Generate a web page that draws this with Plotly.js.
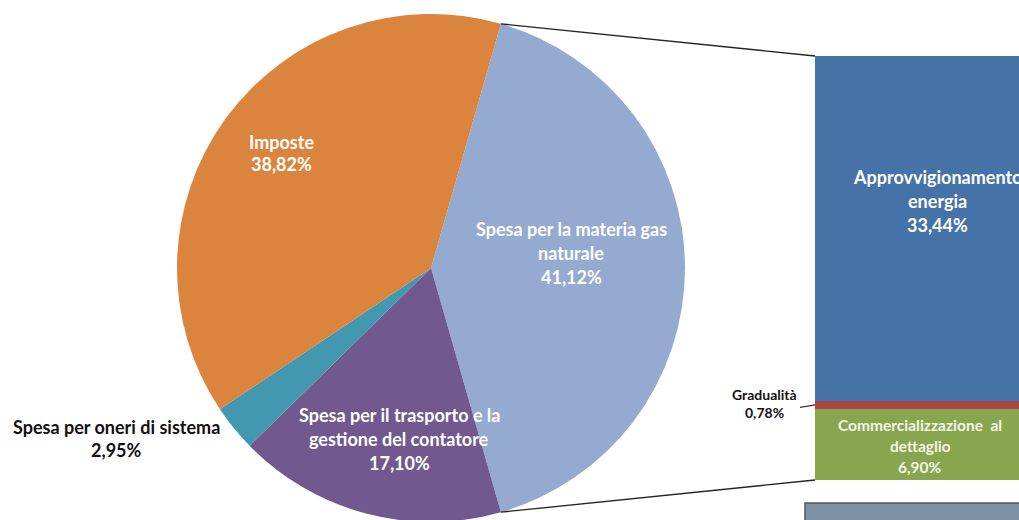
<!DOCTYPE html>
<html>
<head>
<meta charset="utf-8">
<script src="https://cdn.plot.ly/plotly-3.0.1.min.js"></script>
<style>
  html, body { margin: 0; padding: 0; background: #ffffff; overflow: hidden; }
  #wrap { width: 1019px; height: 520px; overflow: hidden; position: relative; }
  #chart { width: 1019px; height: 530px; }
</style>
</head>
<body>
<div id="wrap"><div id="chart"></div></div>
<script>
// ---------------- data ----------------
const pieLabels = ['Spesa per la materia gas naturale', 'Spesa per il trasporto e la gestione del contatore', 'Spesa per oneri di sistema', 'Imposte'];
const pieValues = [41.12, 17.10, 2.95, 38.82];
const barLabels = ['Approvvigionamento energia', 'Gradualità', 'Commercializzazione al dettaglio'];
const barValues = [33.44, 0.78, 6.90];

// ---------------- styles / layout config ----------------
const pieColors = ['#95aad1', '#71588f', '#4198af', '#db843d'];
const barColors = ['#4572a7', '#aa4643', '#89a54e'];
const W = 1019, H = 530;
const pieCx = 431, pieCy = 268, pieR = 254;
const barLeftPx = 815, barTopPx = 56, barBottomPx = 480;

function px(x) { return x / W; }
function py(y) { return (H - y) / H; }
function fmt(v) { return v.toFixed(2).replace('.', ',') + '%'; }

const totalPie = pieValues.reduce((a, b) => a + b, 0);
const explodedShare = pieValues[0] / totalPie;
// first slice centred at 3 o'clock
const rotation = 90 - explodedShare * 360 / 2;

// label block positions (pixel centres), line breaks, colours
const pieLabelCfg = [
  { lines: ['Spesa per la materia gas', 'naturale'], cx: 571, cy: 253, color: '#ffffff', size: 18, sp: 24 },
  { lines: ['Spesa per il trasporto e la', 'gestione del contatore'], cx: 399, cy: 439, color: '#ffffff', size: 18, sp: 24 },
  { lines: ['Spesa per oneri di sistema'], cx: 116, cy: 438, color: '#111111', size: 18, sp: 23 },
  { lines: ['Imposte'], cx: 281, cy: 153, color: '#ffffff', size: 18, sp: 22 }
];
const barLabelCfg = [
  { lines: ['Approvvigionamento', 'energia'], cx: 937, cy: 201, color: '#ffffff', size: 18, sp: 24 },
  { lines: ['Gradualità'], cx: 764, cy: 404, color: '#111111', size: 14, sp: 18 },
  { lines: ['Commercializzazione  al', 'dettaglio'], cx: 920, cy: 446, color: '#f2f5ea', size: 15.5, sp: 21 }
];

const annotations = [];
function addBlock(cfg, value) {
  const lines = cfg.lines.concat([fmt(value)]);
  const n = lines.length;
  lines.forEach((t, i) => {
    const y = cfg.cy + (i - (n - 1) / 2) * cfg.sp;
    annotations.push({
      xref: 'paper', yref: 'paper', x: px(cfg.cx), y: py(y),
      xanchor: 'center', yanchor: 'middle', showarrow: false,
      text: '<b>' + t + '</b>',
      font: { family: 'Lato, "DejaVu Sans", sans-serif', size: cfg.size, color: cfg.color }
    });
  });
}
pieLabelCfg.forEach((c, i) => addBlock(c, pieValues[i]));
barLabelCfg.forEach((c, i) => addBlock(c, barValues[i]));

// connector lines from the exploded slice edges to the bar
const a0 = rotation * Math.PI / 180;
const a1 = (rotation + explodedShare * 360) * Math.PI / 180;
const p0 = [pieCx + pieR * Math.sin(a0), pieCy - pieR * Math.cos(a0)];
const p1 = [pieCx + pieR * Math.sin(a1), pieCy - pieR * Math.cos(a1)];

const barTotal = barValues.reduce((a, b) => a + b, 0);
const shapes = [
  { type: 'line', xref: 'paper', yref: 'paper', x0: px(p0[0]), y0: py(p0[1]), x1: px(barLeftPx), y1: py(barTopPx),
    line: { color: '#222222', width: 1.3 } },
  { type: 'line', xref: 'paper', yref: 'paper', x0: px(p1[0]), y0: py(p1[1]), x1: px(barLeftPx), y1: py(barBottomPx),
    line: { color: '#222222', width: 1.3 } },
  // leader for Gradualità
  { type: 'line', xref: 'paper', yref: 'y', x0: px(800), y0: barValues[2] + barValues[1] / 2 - 0.25, x1: px(barLeftPx), y1: barValues[2] + barValues[1] / 2,
    line: { color: '#333333', width: 1.2 } },
  // partially visible box at bottom right
  { type: 'rect', xref: 'paper', yref: 'paper', x0: px(805), y0: py(503), x1: px(1030), y1: py(545),
    fillcolor: '#7d91a7', line: { color: '#555555', width: 1.5 } }
];

const traces = [
  {
    type: 'pie', values: pieValues, labels: pieLabels, sort: false, direction: 'clockwise',
    rotation: rotation, textinfo: 'none', hoverinfo: 'label+percent',
    marker: { colors: pieColors, line: { width: 0 } },
    domain: { x: [px(pieCx - pieR), px(pieCx + pieR)], y: [py(pieCy + pieR), py(pieCy - pieR)] },
    showlegend: false
  }
];
// stacked bar, bottom to top: Commercializzazione, Gradualità, Approvvigionamento
[2, 1, 0].forEach(i => {
  traces.push({
    type: 'bar', x: [0], y: [barValues[i]], name: barLabels[i], width: 1,
    marker: { color: barColors[i], line: { width: 0 } },
    xaxis: 'x', yaxis: 'y', showlegend: false, hoverinfo: 'name+y'
  });
});

const layout = {
  width: W, height: H,
  margin: { l: 0, r: 0, t: 0, b: 0 },
  paper_bgcolor: '#ffffff', plot_bgcolor: 'rgba(0,0,0,0)',
  barmode: 'stack',
  xaxis: { domain: [px(barLeftPx), 1], range: [-0.5, 0.35], visible: false, fixedrange: true },
  yaxis: { domain: [py(barBottomPx), py(barTopPx)], range: [0, barTotal], visible: false, fixedrange: true },
  annotations: annotations,
  shapes: shapes
};

Plotly.newPlot('chart', traces, layout, { displayModeBar: false, staticPlot: true });
</script>
</body>
</html>
